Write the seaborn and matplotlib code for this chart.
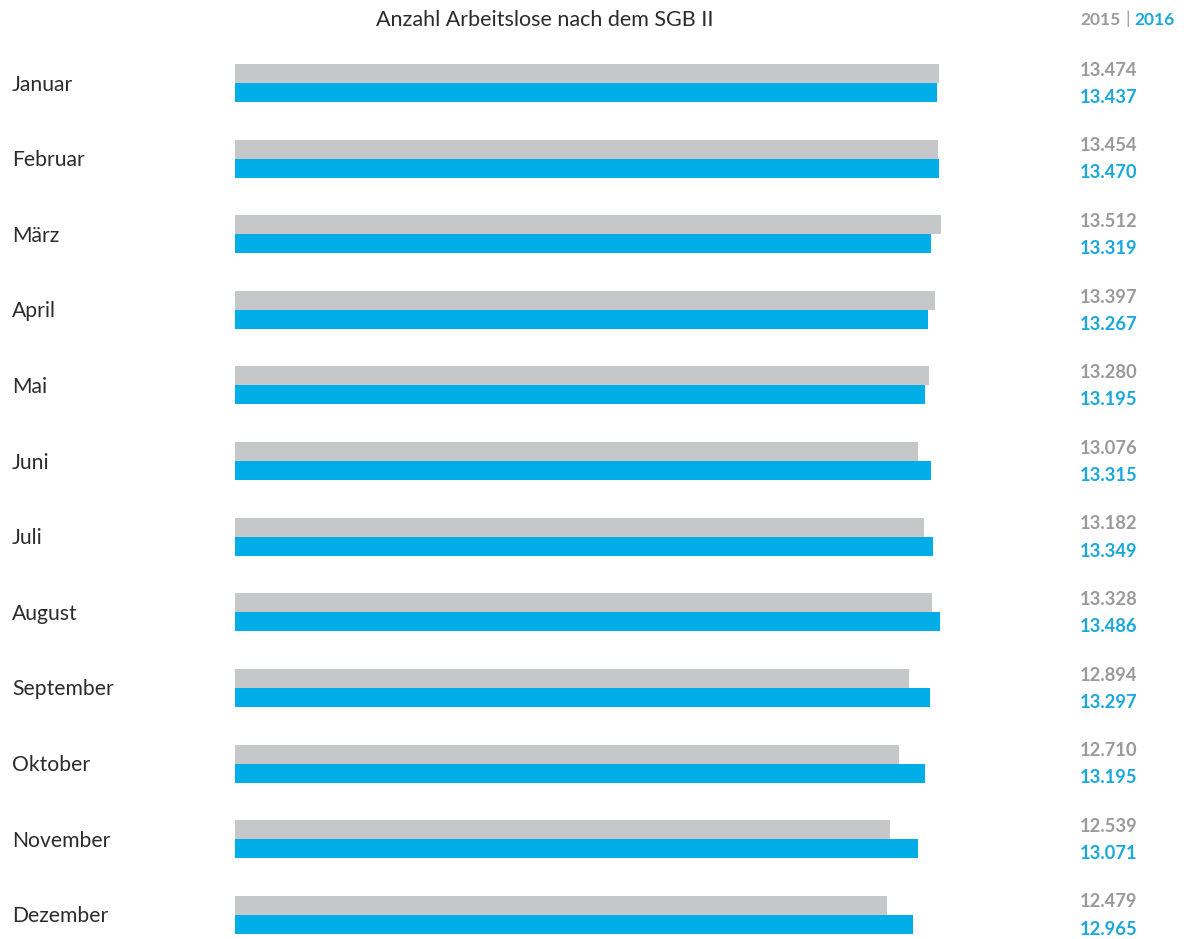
import matplotlib
matplotlib.use("Agg")
import matplotlib.pyplot as plt
import matplotlib.transforms as mtransforms
import seaborn as sns
import pandas as pd

months = ["Januar", "Februar", "März", "April", "Mai", "Juni", "Juli",
          "August", "September", "Oktober", "November", "Dezember"]
values_2015 = [13474, 13454, 13512, 13397, 13280, 13076, 13182, 13328, 12894, 12710, 12539, 12479]
values_2016 = [13437, 13470, 13319, 13267, 13195, 13315, 13349, 13486, 13297, 13195, 13071, 12965]
years = ["2015", "2016"]

GRAY = "#c6c7c9"
BLUE = "#00ade6"
GRAY_TXT = "#9a9a9a"
BLUE_TXT = "#1aa8dc"
DARK = "#2b2b2b"

df = pd.DataFrame({
    "Monat": months * 2,
    "Wert": values_2015 + values_2016,
    "Jahr": [years[0]] * 12 + [years[1]] * 12,
})

sns.set_theme(style="white")
plt.rcParams["font.family"] = ["Lato", "DejaVu Sans"]

W, H = 1184, 939
fig = plt.figure(figsize=(W / 100, H / 100), dpi=100)
ax = fig.add_axes([235 / W, 0, (1019 - 235) / W, 1 - 45.2 / H])

sns.barplot(data=df, y="Monat", x="Wert", hue="Jahr", order=months,
            palette=[GRAY, BLUE], orient="h", width=0.503, ax=ax,
            legend=False, saturation=1, linewidth=0)

ax.set_xlim(0, 15000)
ax.set_ylim(11.32, -0.5)
ax.axis("off")

def fmt(v):
    return f"{v:,}".replace(",", ".")

trans = mtransforms.blended_transform_factory(fig.transFigure, ax.transData)
for i, m in enumerate(months):
    ax.text(12 / W, i + 0.02, m, transform=trans, ha="left", va="center",
            fontsize=15.2, color=DARK)
    ax.text(1080 / W, i - 0.17, fmt(values_2015[i]), transform=trans,
            ha="left", va="center", fontsize=13.2, fontweight="bold", color=GRAY_TXT)
    ax.text(1080 / W, i + 0.19, fmt(values_2016[i]), transform=trans,
            ha="left", va="center", fontsize=13.2, fontweight="bold", color=BLUE_TXT)

fig.text(545 / W, 1 - 20 / H, "Anzahl Arbeitslose nach dem SGB II",
         ha="center", va="center", fontsize=15.5, color=DARK)
fig.text(1121 / W, 1 - 20 / H, years[0], ha="right", va="center",
         fontsize=12.5, fontweight="bold", color=GRAY_TXT)
fig.text(1128 / W, 1 - 19 / H, "|", ha="center", va="center",
         fontsize=13, color=GRAY_TXT)
fig.text(1134 / W, 1 - 20 / H, years[1], ha="left", va="center",
         fontsize=12.5, fontweight="bold", color=BLUE_TXT)

fig.savefig("out.png", dpi=100, facecolor="white")
